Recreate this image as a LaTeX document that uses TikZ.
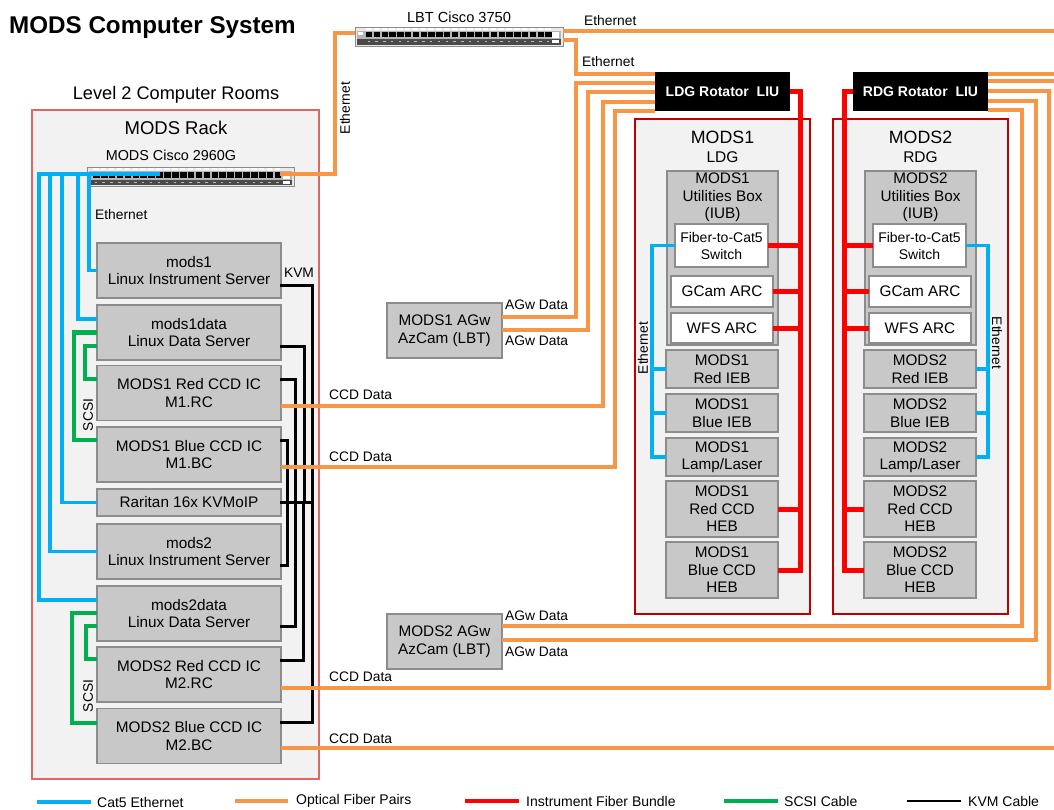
\documentclass[tikz,border=0pt]{standalone}
\usepackage{fontspec}
\setmainfont{Liberation Sans}
\newcommand\fsz[2]{\fontsize{#1}{#2}\selectfont}

\definecolor{cat5}{HTML}{00B0F0}
\definecolor{fiber}{HTML}{F79646}
\definecolor{ifb}{HTML}{FF0000}
\definecolor{scsi}{HTML}{00B050}
\definecolor{boxgray}{HTML}{C8C8C8}
\definecolor{boxedge}{HTML}{8C8C8C}
\definecolor{panel}{HTML}{F2F2F2}
\definecolor{encl}{HTML}{C00000}
\definecolor{rackedge}{HTML}{E06666}
\definecolor{swbody}{HTML}{E9E9E9}
\definecolor{swmid}{HTML}{B5B5B5}
\definecolor{swdark}{HTML}{4A4A4A}

\tikzset{
  wh/.style 2 args={minimum width=#1pt, minimum height=#2pt},
  unit/.style={draw=boxedge, fill=boxgray, line width=1.5pt, inner sep=0pt, outer sep=0pt,
    align=center, font=\fsz{15.3}{17.5}},
  wunit/.style={unit, fill=white},
  encbox/.style={draw=encl, fill=panel, line width=2.5pt, inner sep=0pt, outer sep=0pt},
  rackbox/.style={draw=rackedge, fill=panel, line width=1.5pt, inner sep=0pt, outer sep=0pt},
  liu/.style={fill=black, text=white, inner sep=0pt, outer sep=0pt, font=\bfseries\fsz{14}{16}},
  swunit/.style={draw=boxedge, fill=swbody, line width=1pt, inner sep=0pt, outer sep=0pt},
  eth/.style={cat5, line width=3.5pt},
  opt/.style={fiber, line width=4pt},
  ifbw/.style={ifb, line width=5pt},
  scsiw/.style={scsi, line width=4.5pt},
  kvmw/.style={black, line width=3pt, line cap=rect},
  tag/.style={font=\fsz{13.8}{16}, inner sep=0pt},
  legtext/.style={font=\fsz{14}{16}, inner sep=0pt, anchor=west},
}

\begin{document}
\begin{tikzpicture}[x=1pt,y=-1pt]
\useasboundingbox (0,0) rectangle (1054,809);
\fill[white] (0,0) rectangle (1054,809);

% title
\node[anchor=west, font=\bfseries\fsz{24.2}{28}, inner sep=0pt] (title) at (9,28) {MODS Computer System};

% ---------------- computer room rack ----------------
\node[rackbox, wh={287}{669}] (rack) at (175.5,444.5) {};
\node[font=\fsz{18.2}{21}, inner sep=0pt] (rooms) at (176,95) {Level 2 Computer Rooms};
\node[font=\fsz{18.5}{21}, inner sep=0pt] (racktitle) at (176,128) {MODS Rack};
\node[font=\fsz{14.4}{17}, inner sep=0pt] (swname) at (171,155) {MODS Cisco 2960G};

% rack switch front panel
\node[swunit, wh={207}{19}] (sw2960) at (190.5,176.5) {};
\fill[swmid] (89,171) rectangle (292,179.5);
\fill[swdark] (89,179.5) rectangle (292,185);
\foreach \i in {0,...,23} {
  \fill[white] ({93+\i*7.9},168.2) rectangle ++(5.5,1.8);
  \fill[black] ({93+\i*7.9},172) rectangle ++(6.6,6.2);
  \fill[gray!55] ({94.5+\i*7.9},181.5) rectangle ++(2.5,1.2);
}
\fill[white] (283,172) rectangle (290,178.5);
\fill[white] (283,181) rectangle (290,184);
\coordinate (pe1) at (160,174);
\coordinate (pe2) at (152,174);
\coordinate (pe3) at (144,174);
\coordinate (pe4) at (136,174);
\coordinate (pe5) at (128,174);
\coordinate (pup) at (280,174);

% rack units
\node[unit, wh={184}{55}] (mods1) at (189,270.5) {mods1\\Linux Instrument Server};
\node[unit, wh={184}{55}] (m1data) at (189,332.5) {mods1data\\Linux Data Server};
\node[unit, wh={184}{55}] (m1rc) at (189,393) {MODS1 Red CCD IC\\M1.RC};
\node[unit, wh={184}{55}] (m1bc) at (189,454.5) {MODS1 Blue CCD IC\\M1.BC};
\node[unit, wh={184}{27}] (kvmip) at (189,502.5) {Raritan 16x KVMoIP};
\node[unit, wh={184}{55}] (mods2) at (189,551.5) {mods2\\Linux Instrument Server};
\node[unit, wh={184}{55}] (m2data) at (189,613.5) {mods2data\\Linux Data Server};
\node[unit, wh={184}{55}] (m2rc) at (189,674.5) {MODS2 Red CCD IC\\M2.RC};
\node[unit, wh={184}{55}] (m2bc) at (189,736) {MODS2 Blue CCD IC\\M2.BC};

% ---------------- LBT switch and LIUs ----------------
\node[font=\fsz{14.6}{17}, inner sep=0pt] (lbtname) at (459,17) {LBT Cisco 3750};
\node[swunit, wh={208}{19}] (lbt) at (459,36.5) {};
\fill[swmid] (357,31) rectangle (561,38.5);
\fill[swdark] (357,38.5) rectangle (561,44.5);
\fill[white] (358,32) rectangle (363,35);
\foreach \i in {0,...,23} {
  \fill[white] ({366+\i*7.8},28) rectangle ++(5.4,2);
  \fill[black] ({366+\i*7.8},31.8) rectangle ++(6.4,5.4);
  \fill[gray!55] ({367.5+\i*7.8},40.5) rectangle ++(2.5,1.2);
}
\fill[white] (552,32) rectangle (559,37.5);
\fill[white] (552,40) rectangle (559,43);

\node[liu, wh={135}{39}] (ldg) at (722.5,91.5) {LDG Rotator\ \ LIU};
\node[liu, wh={135}{39}] (rdg) at (920.5,91.5) {RDG Rotator\ \ LIU};

% ---------------- AGw cameras ----------------
\node[unit, wh={115}{55}] (m1agw) at (444.5,330.5) {MODS1 AGw\\AzCam (LBT)};
\node[unit, wh={115}{55}] (m2agw) at (444.5,641.5) {MODS2 AGw\\AzCam (LBT)};

% ---------------- MODS1 on the left direct Gregorian ----------------
\node[encbox, wh={175}{495}] (m1enc) at (722.5,366.5) {};
\node[font=\fsz{17.8}{20}, inner sep=0pt] (m1name) at (722.5,137) {MODS1};
\node[font=\fsz{15.5}{18}, inner sep=0pt] (m1port) at (722.5,157) {LDG};
\node[unit, wh={111}{174}] (m1iub) at (722.5,258) {};
\node[font=\fsz{15.3}{17.5}, align=center, inner sep=0pt] (m1iubname) at (722.5,197.5) {MODS1\\Utilities Box\\(IUB)};
\node[wunit, wh={93}{43}, font=\fsz{14}{17}] (m1fib) at (721.5,245.5) {Fiber-to-Cat5\\Switch};
\node[wunit, wh={102}{31}] (m1gcam) at (722,291.5) {GCam ARC};
\node[wunit, wh={102}{30}] (m1wfs) at (722,328) {WFS ARC};
\node[unit, wh={112}{38}] (m1rieb) at (722,369) {MODS1\\Red IEB};
\node[unit, wh={112}{38}] (m1bieb) at (722,413) {MODS1\\Blue IEB};
\node[unit, wh={112}{38}] (m1lamp) at (722,457) {MODS1\\Lamp/Laser};
\node[unit, wh={112}{56}] (m1rheb) at (722,509) {MODS1\\Red CCD\\HEB};
\node[unit, wh={112}{56}] (m1bheb) at (722,570) {MODS1\\Blue CCD\\HEB};

% ---------------- MODS2 on the right direct Gregorian ----------------
\node[encbox, wh={175}{495}] (m2enc) at (920.5,366.5) {};
\node[font=\fsz{17.8}{20}, inner sep=0pt] (m2name) at (920.5,137) {MODS2};
\node[font=\fsz{15.5}{18}, inner sep=0pt] (m2port) at (920.5,157) {RDG};
\node[unit, wh={111}{174}] (m2iub) at (920.5,258) {};
\node[font=\fsz{15.3}{17.5}, align=center, inner sep=0pt] (m2iubname) at (920.5,197.5) {MODS2\\Utilities Box\\(IUB)};
\node[wunit, wh={93}{43}, font=\fsz{14}{17}] (m2fib) at (919.5,245.5) {Fiber-to-Cat5\\Switch};
\node[wunit, wh={102}{31}] (m2gcam) at (920,291.5) {GCam ARC};
\node[wunit, wh={102}{30}] (m2wfs) at (920,328) {WFS ARC};
\node[unit, wh={112}{38}] (m2rieb) at (920,369) {MODS2\\Red IEB};
\node[unit, wh={112}{38}] (m2bieb) at (920,413) {MODS2\\Blue IEB};
\node[unit, wh={112}{38}] (m2lamp) at (920,457) {MODS2\\Lamp/Laser};
\node[unit, wh={112}{56}] (m2rheb) at (920,509) {MODS2\\Red CCD\\HEB};
\node[unit, wh={112}{56}] (m2bheb) at (920,570) {MODS2\\Blue CCD\\HEB};

% free ends leaving the drawing on the right
\coordinate (outA) at (1054,31);
\coordinate (outB) at (1054,74);
\coordinate (outC) at (1054,81);
\coordinate (outD) at (1054,748);

% ---------------- Cat5 Ethernet ----------------
\draw[eth] (mods1.west) -| (89,174) -- (pe1);
\draw[eth] (m1data.west |- 0,319) -| (78,174) -- (pe2);
\draw[eth] (kvmip.west) -| (62,174) -- (pe3);
\draw[eth] (mods2.west) -| (50,174) -- (pe4);
\draw[eth] (m2data.west |- 0,600) -| (39,174) -- (pe5);
\node[tag, anchor=west] (ethrack) at (95,215) {Ethernet};

\draw[eth] (m1fib.west) -| (652,457) -- (m1lamp.west);
\draw[eth] (m1rieb.west) -- (652,369);
\draw[eth] (m1bieb.west) -- (652,413);
\node[tag, rotate=90] (eth1) at (643,348) {Ethernet};

\draw[eth] (m2fib.east) -| (988,457) -- (m2lamp.east);
\draw[eth] (m2rieb.east) -- (988,369);
\draw[eth] (m2bieb.east) -- (988,413);
\node[tag, rotate=-90] (eth2) at (997,343) {Ethernet};

% ---------------- SCSI ----------------
\draw[scsiw] (m1data.west |- 0,346) -| (85,379) -- (m1rc.west |- 0,379);
\draw[scsiw] (m1data.west) -| (74,440) -- (m1bc.west |- 0,440);
\node[tag, rotate=90] (scsi1) at (88,415) {SCSI};
\draw[scsiw] (m2data.west |- 0,626) -| (86,659) -- (m2rc.west |- 0,659);
\draw[scsiw] (m2data.west |- 0,613) -| (72,723) -- (m2bc.west |- 0,723);
\node[tag, rotate=90] (scsi2) at (88,696) {SCSI};

% ---------------- KVM ----------------
\draw[kvmw] (kvmip.east) -- (312,502.5);
\draw[kvmw] (mods1.east |- 0,285) -| (312,502.5);
\draw[kvmw] (m1data.east |- 0,346) -| (304,502.5);
\draw[kvmw] (m1rc.east |- 0,379) -| (295,502.5);
\draw[kvmw] (m1bc.east |- 0,440) -| (287,502.5);
\draw[kvmw] (mods2.east |- 0,565) -| (287,502.5);
\draw[kvmw] (m2data.east |- 0,626) -| (295,502.5);
\draw[kvmw] (m2rc.east |- 0,660) -| (303,502.5);
\draw[kvmw] (m2bc.east |- 0,722) -| (312,502.5);
\node[tag] (kvmtag) at (299,273) {KVM};

% ---------------- optical fiber pairs ----------------
\draw[opt] (pup) -| (335,33) -- (lbt.west |- 0,33);
\node[tag, rotate=90] (ethup) at (345,108) {Ethernet};
\draw[opt] (lbt.east |- 0,31) -- (outA);
\node[tag, anchor=west] (ethtop) at (584,21) {Ethernet};
\draw[opt] (lbt.east |- 0,40) -| (576,74) -- (ldg.west |- 0,74);
\node[tag, anchor=west] (ethldg) at (582,62) {Ethernet};

\draw[opt] (m1agw.east |- 0,317) -| (576,82.5) -- (ldg.west |- 0,82.5);
\draw[opt] (m1agw.east |- 0,330) -| (588,92) -- (ldg.west |- 0,92);
\draw[opt] (m1rc.east |- 0,406) -| (603,101.5) -- (ldg.west |- 0,101.5);
\draw[opt] (m1bc.east |- 0,467) -| (615,110.5) -- (ldg.west |- 0,110.5);
\node[tag, anchor=west] (agw1a) at (505,305) {AGw Data};
\node[tag, anchor=west] (agw1b) at (505,341) {AGw Data};
\node[tag, anchor=west] (ccd1a) at (329,395) {CCD Data};
\node[tag, anchor=west] (ccd1b) at (329,457) {CCD Data};

\draw[opt] (rdg.east |- 0,74) -- (outB);
\draw[opt] (rdg.east |- 0,81) -- (outC);
\draw[opt] (rdg.east |- 0,91) -| (1049,688) -- (m2rc.east |- 0,688);
\draw[opt] (rdg.east |- 0,100.5) -| (1036,640) -- (m2agw.east |- 0,640);
\draw[opt] (rdg.east |- 0,109.5) -| (1022,626) -- (m2agw.east |- 0,626);
\draw[opt] (m2bc.east |- 0,748) -- (outD);
\node[tag, anchor=west] (agw2a) at (505,616) {AGw Data};
\node[tag, anchor=west] (agw2b) at (505,652) {AGw Data};
\node[tag, anchor=west] (ccd2a) at (329,677) {CCD Data};
\node[tag, anchor=west] (ccd2b) at (329,739) {CCD Data};

% ---------------- instrument fiber bundles ----------------
\draw[ifbw] (ldg.east) -| (800,570) -- (m1bheb.east);
\draw[ifbw] (m1fib.east) -- (800,245.5);
\draw[ifbw] (m1gcam.east) -- (800,291.5);
\draw[ifbw] (m1wfs.east) -- (800,328);
\draw[ifbw] (m1rheb.east) -- (800,509);

\draw[ifbw] (rdg.west) -| (844,570) -- (m2bheb.west);
\draw[ifbw] (m2fib.west) -- (844,245.5);
\draw[ifbw] (m2gcam.west) -- (844,291.5);
\draw[ifbw] (m2wfs.west) -- (844,328);
\draw[ifbw] (m2rheb.west) -- (844,509);

% ---------------- legend ----------------
\draw[eth] (37,802) -- (91,802);
\node[legtext] (lg1) at (97,802) {Cat5 Ethernet};
\draw[opt] (235,801) -- (288,801);
\node[legtext] (lg2) at (296,801) {Optical Fiber Pairs};
\draw[ifbw, line width=4.5pt] (465,801) -- (519,801);
\node[legtext] (lg3) at (526,801) {Instrument Fiber Bundle};
\draw[scsiw] (724,801) -- (778,801);
\node[legtext] (lg4) at (784,801) {SCSI Cable};
\draw[black, line width=2pt] (907,801) -- (961,801);
\node[legtext] (lg5) at (968,801) {KVM Cable};
\end{tikzpicture}
\end{document}
